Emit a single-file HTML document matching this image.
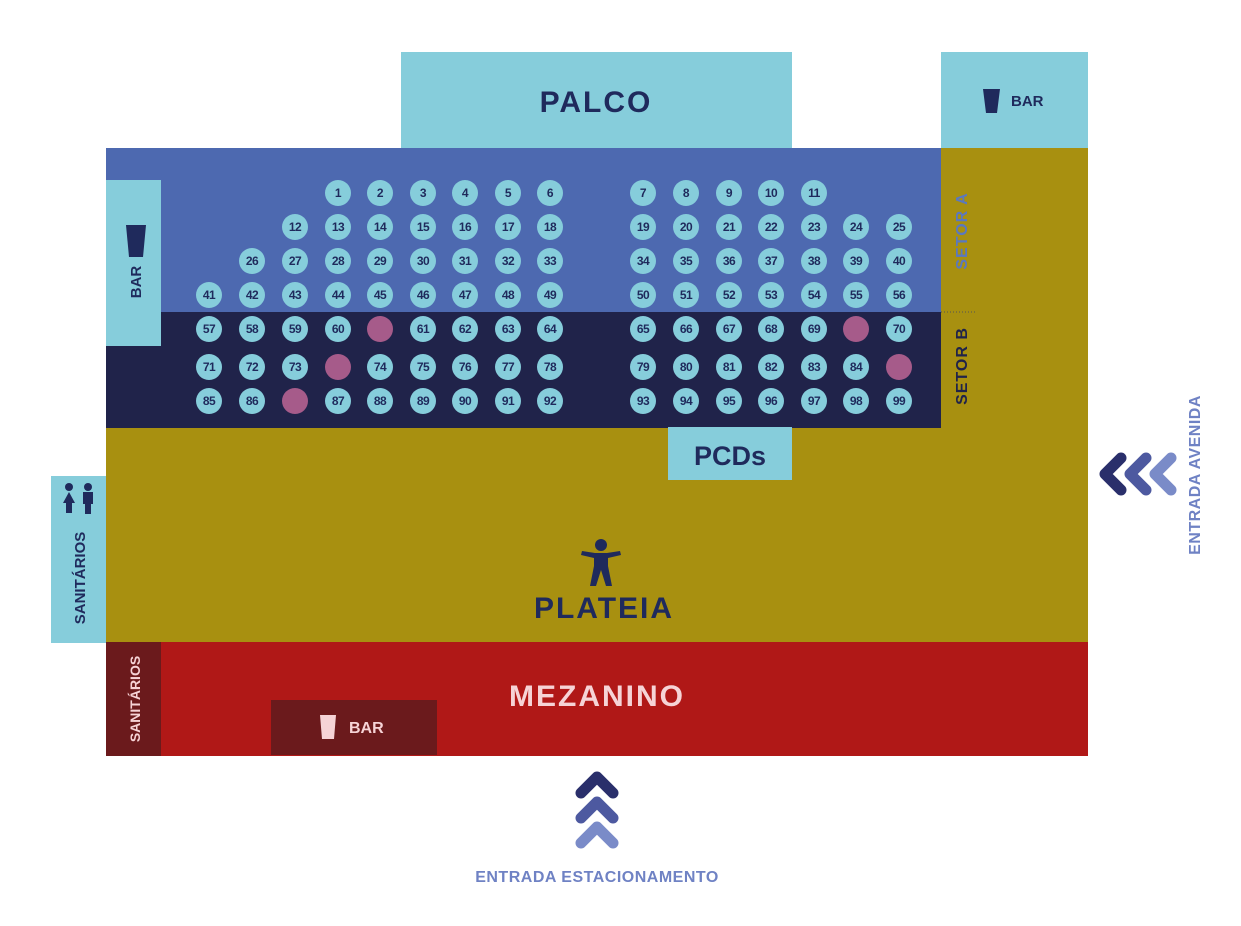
<!DOCTYPE html>
<html><head><meta charset="utf-8"><style>
html,body{margin:0;padding:0;background:#fff;}
svg{display:block;font-family:"Liberation Sans",sans-serif;font-weight:bold;}
.s circle{fill:#86cddb}
.s circle.p{fill:#a65b8a}
.s text{fill:#1f2a5c;font-size:12px;text-anchor:middle;letter-spacing:-0.5px}
</style></head><body>
<svg width="1241" height="926" viewBox="0 0 1241 926" xmlns="http://www.w3.org/2000/svg">
<rect x="401" y="52" width="391" height="97" fill="#86cddb"/>
<text x="596" y="112" font-size="30" fill="#1f2a5c" text-anchor="middle" letter-spacing="2">PALCO</text>
<rect x="941" y="52" width="147" height="97" fill="#86cddb"/>
<path d="M983 89 h17 l-3 24 h-11 z" fill="#1f2a5c"/>
<text x="1011" y="106" font-size="15" fill="#1f2a5c">BAR</text>
<rect x="941" y="148" width="147" height="495" fill="#a89010"/>
<rect x="106" y="427" width="982" height="216" fill="#a89010"/>
<rect x="106" y="148" width="835" height="165" fill="#4d69b0"/>
<rect x="106" y="312" width="835" height="116" fill="#20234a"/>
<line x1="941" y1="312" x2="976" y2="312" stroke="#555" stroke-dasharray="1,2"/>
<text transform="translate(967,231) rotate(-90)" font-size="16" fill="#5a78c0" text-anchor="middle" letter-spacing="1">SETOR A</text>
<text transform="translate(967,366) rotate(-90)" font-size="16" fill="#20234a" text-anchor="middle" letter-spacing="1">SETOR B</text>
<rect x="106" y="180" width="55" height="166" fill="#86cddb"/>
<path d="M126 225 h20 l-3 32 h-14 z" fill="#1f2a5c"/>
<text transform="translate(141,282) rotate(-90)" font-size="15" fill="#1f2a5c" text-anchor="middle">BAR</text>
<rect x="668" y="427" width="124" height="53" fill="#86cddb"/>
<text x="730" y="465" font-size="27" fill="#1f2a5c" text-anchor="middle">PCDs</text>
<rect x="51" y="476" width="55" height="167" fill="#86cddb"/>
<g fill="#1f2a5c">
<circle cx="69" cy="487" r="4"/><path d="M63 503 l6-11 l6 11 h-3 v10 h-6 v-10z"/>
<circle cx="88" cy="487" r="4"/><path d="M83 492 h10 v12 h-2 v10 h-6 v-10 h-2z"/>
</g>
<text transform="translate(85,578) rotate(-90)" font-size="15" fill="#1f2a5c" text-anchor="middle">SANITÁRIOS</text>
<g fill="#1f2a5c">
<circle cx="601" cy="545" r="6"/>
<path d="M582 551 l13 2 h12 l13 -2 l1 4 l-13 3 v8 l4 20 h-6 l-5 -16 l-5 16 h-6 l4 -20 v-8 l-13 -3z"/>
</g>
<text x="604" y="618" font-size="30" fill="#1f2a5c" text-anchor="middle" letter-spacing="2">PLATEIA</text>
<rect x="106" y="642" width="982" height="114" fill="#b01817"/>
<rect x="106" y="642" width="55" height="114" fill="#6b1a1c"/>
<text transform="translate(140,699) rotate(-90)" font-size="14" fill="#f6d3d6" text-anchor="middle">SANITÁRIOS</text>
<rect x="271" y="700" width="166" height="55" fill="#6b1a1c"/>
<path d="M320 715 h16 l-2 24 h-12 z" fill="#f6d3d6"/>
<text x="349" y="733" font-size="16" fill="#f6d3d6">BAR</text>
<text x="597" y="706" font-size="30" fill="#f6d3d6" text-anchor="middle" letter-spacing="2">MEZANINO</text>
<g fill="none" stroke-width="11" stroke-linecap="round" stroke-linejoin="round">
<path d="M581 793 l16 -16 l16 16" stroke="#2a2f6b"/>
<path d="M581 818 l16 -16 l16 16" stroke="#4d59a0"/>
<path d="M581 843 l16 -16 l16 16" stroke="#7a8bc8"/>
<path d="M1121 458 l-16 16 l16 16" stroke="#2a2f6b"/>
<path d="M1146 458 l-16 16 l16 16" stroke="#4d59a0"/>
<path d="M1171 458 l-16 16 l16 16" stroke="#7a8bc8"/>
</g>
<text x="597" y="882" font-size="16" fill="#6f82c4" text-anchor="middle" letter-spacing="0.5">ENTRADA ESTACIONAMENTO</text>
<text transform="translate(1200,475) rotate(-90)" font-size="16" fill="#6f82c4" text-anchor="middle" letter-spacing="0.5">ENTRADA AVENIDA</text>
<g class="s">
<circle cx="338" cy="193" r="13"/><text x="338" y="197">1</text>
<circle cx="380" cy="193" r="13"/><text x="380" y="197">2</text>
<circle cx="423" cy="193" r="13"/><text x="423" y="197">3</text>
<circle cx="465" cy="193" r="13"/><text x="465" y="197">4</text>
<circle cx="508" cy="193" r="13"/><text x="508" y="197">5</text>
<circle cx="550" cy="193" r="13"/><text x="550" y="197">6</text>
<circle cx="643" cy="193" r="13"/><text x="643" y="197">7</text>
<circle cx="686" cy="193" r="13"/><text x="686" y="197">8</text>
<circle cx="729" cy="193" r="13"/><text x="729" y="197">9</text>
<circle cx="771" cy="193" r="13"/><text x="771" y="197">10</text>
<circle cx="814" cy="193" r="13"/><text x="814" y="197">11</text>
<circle cx="295" cy="227" r="13"/><text x="295" y="231">12</text>
<circle cx="338" cy="227" r="13"/><text x="338" y="231">13</text>
<circle cx="380" cy="227" r="13"/><text x="380" y="231">14</text>
<circle cx="423" cy="227" r="13"/><text x="423" y="231">15</text>
<circle cx="465" cy="227" r="13"/><text x="465" y="231">16</text>
<circle cx="508" cy="227" r="13"/><text x="508" y="231">17</text>
<circle cx="550" cy="227" r="13"/><text x="550" y="231">18</text>
<circle cx="643" cy="227" r="13"/><text x="643" y="231">19</text>
<circle cx="686" cy="227" r="13"/><text x="686" y="231">20</text>
<circle cx="729" cy="227" r="13"/><text x="729" y="231">21</text>
<circle cx="771" cy="227" r="13"/><text x="771" y="231">22</text>
<circle cx="814" cy="227" r="13"/><text x="814" y="231">23</text>
<circle cx="856" cy="227" r="13"/><text x="856" y="231">24</text>
<circle cx="899" cy="227" r="13"/><text x="899" y="231">25</text>
<circle cx="252" cy="261" r="13"/><text x="252" y="265">26</text>
<circle cx="295" cy="261" r="13"/><text x="295" y="265">27</text>
<circle cx="338" cy="261" r="13"/><text x="338" y="265">28</text>
<circle cx="380" cy="261" r="13"/><text x="380" y="265">29</text>
<circle cx="423" cy="261" r="13"/><text x="423" y="265">30</text>
<circle cx="465" cy="261" r="13"/><text x="465" y="265">31</text>
<circle cx="508" cy="261" r="13"/><text x="508" y="265">32</text>
<circle cx="550" cy="261" r="13"/><text x="550" y="265">33</text>
<circle cx="643" cy="261" r="13"/><text x="643" y="265">34</text>
<circle cx="686" cy="261" r="13"/><text x="686" y="265">35</text>
<circle cx="729" cy="261" r="13"/><text x="729" y="265">36</text>
<circle cx="771" cy="261" r="13"/><text x="771" y="265">37</text>
<circle cx="814" cy="261" r="13"/><text x="814" y="265">38</text>
<circle cx="856" cy="261" r="13"/><text x="856" y="265">39</text>
<circle cx="899" cy="261" r="13"/><text x="899" y="265">40</text>
<circle cx="209" cy="295" r="13"/><text x="209" y="299">41</text>
<circle cx="252" cy="295" r="13"/><text x="252" y="299">42</text>
<circle cx="295" cy="295" r="13"/><text x="295" y="299">43</text>
<circle cx="338" cy="295" r="13"/><text x="338" y="299">44</text>
<circle cx="380" cy="295" r="13"/><text x="380" y="299">45</text>
<circle cx="423" cy="295" r="13"/><text x="423" y="299">46</text>
<circle cx="465" cy="295" r="13"/><text x="465" y="299">47</text>
<circle cx="508" cy="295" r="13"/><text x="508" y="299">48</text>
<circle cx="550" cy="295" r="13"/><text x="550" y="299">49</text>
<circle cx="643" cy="295" r="13"/><text x="643" y="299">50</text>
<circle cx="686" cy="295" r="13"/><text x="686" y="299">51</text>
<circle cx="729" cy="295" r="13"/><text x="729" y="299">52</text>
<circle cx="771" cy="295" r="13"/><text x="771" y="299">53</text>
<circle cx="814" cy="295" r="13"/><text x="814" y="299">54</text>
<circle cx="856" cy="295" r="13"/><text x="856" y="299">55</text>
<circle cx="899" cy="295" r="13"/><text x="899" y="299">56</text>
<circle cx="209" cy="329" r="13"/><text x="209" y="333">57</text>
<circle cx="252" cy="329" r="13"/><text x="252" y="333">58</text>
<circle cx="295" cy="329" r="13"/><text x="295" y="333">59</text>
<circle cx="338" cy="329" r="13"/><text x="338" y="333">60</text>
<circle cx="380" cy="329" r="13" class="p"/>
<circle cx="423" cy="329" r="13"/><text x="423" y="333">61</text>
<circle cx="465" cy="329" r="13"/><text x="465" y="333">62</text>
<circle cx="508" cy="329" r="13"/><text x="508" y="333">63</text>
<circle cx="550" cy="329" r="13"/><text x="550" y="333">64</text>
<circle cx="643" cy="329" r="13"/><text x="643" y="333">65</text>
<circle cx="686" cy="329" r="13"/><text x="686" y="333">66</text>
<circle cx="729" cy="329" r="13"/><text x="729" y="333">67</text>
<circle cx="771" cy="329" r="13"/><text x="771" y="333">68</text>
<circle cx="814" cy="329" r="13"/><text x="814" y="333">69</text>
<circle cx="856" cy="329" r="13" class="p"/>
<circle cx="899" cy="329" r="13"/><text x="899" y="333">70</text>
<circle cx="209" cy="367" r="13"/><text x="209" y="371">71</text>
<circle cx="252" cy="367" r="13"/><text x="252" y="371">72</text>
<circle cx="295" cy="367" r="13"/><text x="295" y="371">73</text>
<circle cx="338" cy="367" r="13" class="p"/>
<circle cx="380" cy="367" r="13"/><text x="380" y="371">74</text>
<circle cx="423" cy="367" r="13"/><text x="423" y="371">75</text>
<circle cx="465" cy="367" r="13"/><text x="465" y="371">76</text>
<circle cx="508" cy="367" r="13"/><text x="508" y="371">77</text>
<circle cx="550" cy="367" r="13"/><text x="550" y="371">78</text>
<circle cx="643" cy="367" r="13"/><text x="643" y="371">79</text>
<circle cx="686" cy="367" r="13"/><text x="686" y="371">80</text>
<circle cx="729" cy="367" r="13"/><text x="729" y="371">81</text>
<circle cx="771" cy="367" r="13"/><text x="771" y="371">82</text>
<circle cx="814" cy="367" r="13"/><text x="814" y="371">83</text>
<circle cx="856" cy="367" r="13"/><text x="856" y="371">84</text>
<circle cx="899" cy="367" r="13" class="p"/>
<circle cx="209" cy="401" r="13"/><text x="209" y="405">85</text>
<circle cx="252" cy="401" r="13"/><text x="252" y="405">86</text>
<circle cx="295" cy="401" r="13" class="p"/>
<circle cx="338" cy="401" r="13"/><text x="338" y="405">87</text>
<circle cx="380" cy="401" r="13"/><text x="380" y="405">88</text>
<circle cx="423" cy="401" r="13"/><text x="423" y="405">89</text>
<circle cx="465" cy="401" r="13"/><text x="465" y="405">90</text>
<circle cx="508" cy="401" r="13"/><text x="508" y="405">91</text>
<circle cx="550" cy="401" r="13"/><text x="550" y="405">92</text>
<circle cx="643" cy="401" r="13"/><text x="643" y="405">93</text>
<circle cx="686" cy="401" r="13"/><text x="686" y="405">94</text>
<circle cx="729" cy="401" r="13"/><text x="729" y="405">95</text>
<circle cx="771" cy="401" r="13"/><text x="771" y="405">96</text>
<circle cx="814" cy="401" r="13"/><text x="814" y="405">97</text>
<circle cx="856" cy="401" r="13"/><text x="856" y="405">98</text>
<circle cx="899" cy="401" r="13"/><text x="899" y="405">99</text>
</g>
</svg>
</body></html>
